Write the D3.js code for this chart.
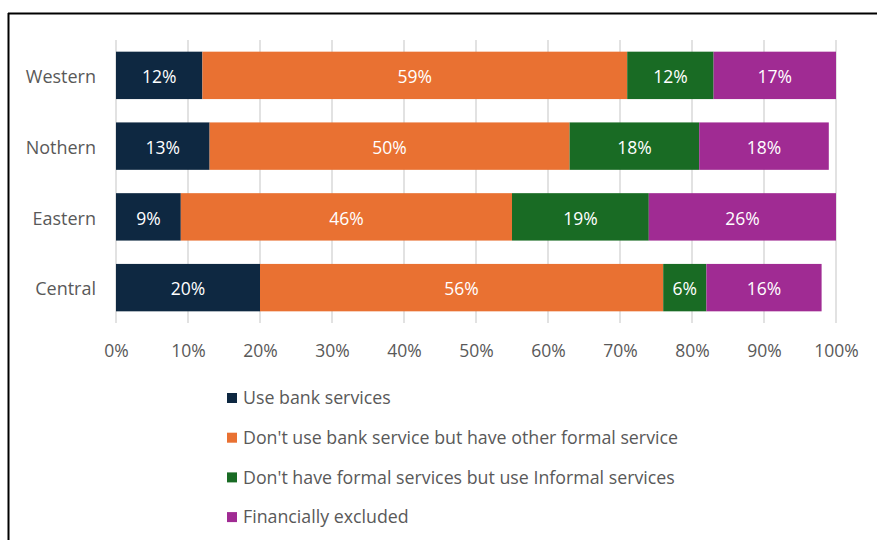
<!DOCTYPE html>
<html>
<head>
<meta charset="utf-8">
<script src="https://cdn.jsdelivr.net/npm/d3@7"></script>
<style>
  body { margin: 0; background: #fff; }
  text { font-family: "Open Sans", sans-serif; }
</style>
</head>
<body>
<div id="chart"></div>
<script>
// data
const regions = ["Western", "Nothern", "Eastern", "Central"];
const seriesNames = [
    "Use bank services",
    "Don't use bank service but have other formal service",
    "Don't have formal services but use Informal services",
    "Financially excluded"
];
const useBank = [12, 13, 9, 20];
const otherFormal = [59, 50, 46, 56];
const informal = [12, 18, 19, 6];
const excluded = [17, 18, 26, 16];
const xTicks = [0, 10, 20, 30, 40, 50, 60, 70, 80, 90, 100];

const colors = ["#0E2841", "#E97132", "#196B24", "#A02B93"];

const W = 877, H = 540;
const margin = { top: 40, left: 116, right: 41, bottom: 217 };
const width = W - margin.left - margin.right;
const height = H - margin.top - margin.bottom;

const svg = d3.select("#chart").append("svg")
    .attr("width", W)
    .attr("height", H);

// chart frame (only top + left visible)
svg.append("line").attr("x1", 8).attr("x2", W).attr("y1", 13.5).attr("y2", 13.5)
    .attr("stroke", "#000").attr("stroke-width", 2);
svg.append("line").attr("x1", 8.5).attr("x2", 8.5).attr("y1", 13).attr("y2", H)
    .attr("stroke", "#000").attr("stroke-width", 2);

const g = svg.append("g")
    .attr("transform", `translate(${margin.left},${margin.top})`);

const table = regions.map((r, i) => ({
    region: r,
    s0: useBank[i], s1: otherFormal[i], s2: informal[i], s3: excluded[i]
}));
const keys = ["s0", "s1", "s2", "s3"];
const stacked = d3.stack().keys(keys)(table);

const x = d3.scaleLinear().domain([0, 100]).range([0, width]);
const y = d3.scaleBand().domain(regions).range([0, height]).paddingInner(0.33).paddingOuter(0.165);

// gridlines
g.selectAll(".grid")
    .data(xTicks)
    .enter().append("line")
    .attr("x1", d => x(d)).attr("x2", d => x(d))
    .attr("y1", 0).attr("y2", height)
    .attr("stroke", "#d9d9d9").attr("stroke-width", 1.5);

// bars
const layer = g.selectAll(".layer")
    .data(stacked)
    .enter().append("g")
    .attr("fill", (d, i) => colors[i]);

layer.selectAll("rect")
    .data(d => d)
    .enter().append("rect")
    .attr("x", d => x(d[0]))
    .attr("width", d => x(d[1]) - x(d[0]))
    .attr("y", d => y(d.data.region))
    .attr("height", y.bandwidth());

layer.selectAll("text")
    .data(d => d.map(v => ({ v: v, key: d.key })))
    .enter().append("text")
    .attr("x", d => (x(d.v[0]) + x(d.v[1])) / 2)
    .attr("y", d => y(d.v.data.region) + y.bandwidth() / 2 + 1.7)
    .attr("dy", "0.35em")
    .attr("text-anchor", "middle")
    .attr("fill", "#fff")
    .style("font-size", "17.5px")
    .text(d => d.v.data[d.key] + "%");

// y axis labels
const yAxis = g.append("g")
    .call(d3.axisLeft(y).tickSize(0).tickPadding(20));
yAxis.select(".domain").remove();
yAxis.selectAll("text")
    .attr("dy", "0.43em")
    .attr("fill", "#595959")
    .style("font-size", "18px")
    .style("font-family", "Open Sans, sans-serif");

// x axis labels
const xAxis = g.append("g")
    .attr("transform", `translate(0,${height})`)
    .call(d3.axisBottom(x).tickValues(xTicks).tickFormat(d => d + "%").tickSize(0).tickPadding(22));
xAxis.select(".domain").remove();
xAxis.selectAll("text")
    .attr("fill", "#595959")
    .style("font-size", "17.5px")
    .style("font-family", "Open Sans, sans-serif");

// legend
const legend = svg.selectAll(".legend")
    .data(seriesNames)
    .enter().append("g")
    .attr("transform", (d, i) => `translate(227, ${398 + i * 39.7})`);

legend.append("rect")
    .attr("x", 0).attr("y", -5)
    .attr("width", 10).attr("height", 10)
    .attr("fill", (d, i) => colors[i]);

legend.append("text")
    .attr("x", 16)
    .attr("dy", "0.35em")
    .attr("fill", "#595959")
    .style("font-size", "17.8px")
    .text(d => d);
</script>
</body>
</html>
